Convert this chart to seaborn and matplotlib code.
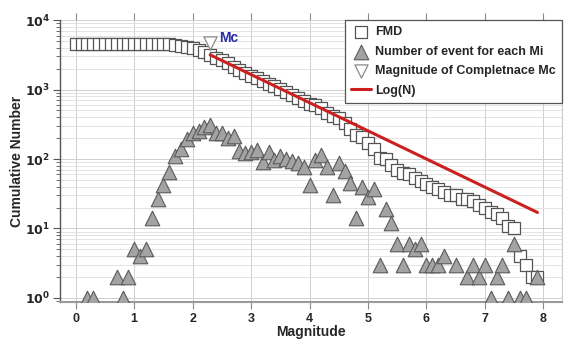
import numpy as np
import pandas as pd
import seaborn as sns
import matplotlib.pyplot as plt
from matplotlib.ticker import LogLocator, FuncFormatter, NullFormatter

# cumulative number (FMD), one value per 0.1 magnitude bin from 0.0 to 7.9
fmd_mag = [round(0.1 * i, 1) for i in range(80)]
fmd_n = [4500] * 16 + [
    4470, 4370, 4270, 4170, 3980, 3720, 3470, 3160, 2880, 2630,
    2400, 2140, 1900, 1740, 1580, 1450, 1320, 1200, 1120, 1020,
    910, 830, 760, 690, 630, 600, 540, 460, 410, 390,
    330, 270, 225, 210, 170, 140, 103, 100, 81, 69,
    63, 60, 54, 49, 43, 40, 37, 34, 30, 30,
    27, 27, 25, 22, 20, 17, 16, 14, 11, 10,
    4, 3, 2, 2,
]

# number of events in each magnitude bin
tri_mag = [0.2, 0.3, 0.7, 0.8, 0.9, 1.0, 1.1, 1.2, 1.3, 1.4, 1.5, 1.6, 1.7, 1.8, 1.9,
           2.0, 2.1, 2.2, 2.3, 2.4, 2.5, 2.6, 2.7, 2.8, 2.9, 3.0, 3.1, 3.2, 3.3, 3.4,
           3.5, 3.6, 3.7, 3.8, 3.9, 4.0, 4.1, 4.2, 4.3, 4.4, 4.5, 4.6, 4.7, 4.8, 4.9,
           5.0, 5.1, 5.2, 5.3, 5.4, 5.5, 5.6, 5.7, 5.8, 5.9, 6.0, 6.1, 6.2, 6.3, 6.5,
           6.7, 6.8, 6.9, 7.0, 7.1, 7.2, 7.3, 7.4, 7.5, 7.6, 7.7, 7.9]
tri_n = [1, 1, 2, 1, 2, 5, 4, 5, 14, 27, 42, 65, 110, 140, 195,
         235, 250, 290, 310, 235, 240, 200, 215, 130, 122, 125, 135, 91, 126, 97,
         110, 100, 95, 88, 76, 42, 97, 115, 77, 30, 87, 68, 45, 14, 40,
         28, 37, 3, 19, 12, 6, 3, 6, 5, 6, 3, 3, 3, 4, 3,
         2, 3, 2, 3, 1, 2, 3, 1, 6, 1, 1, 2]

# magnitude of completeness
mc_mag = [2.3]
mc_n = [4700]

# Gutenberg-Richter fit, log(N)
fit_mag = [2.3, 7.9]
fit_n = [3160, 17]

sns.set_style("whitegrid")
plt.rcParams['font.family'] = ['Liberation Sans', 'DejaVu Sans']
plt.rcParams['font.weight'] = 'bold'

fig = plt.figure(figsize=(5.66, 3.41), dpi=100)
ax = fig.add_axes([0.106, 0.114, 0.887, 0.827])

sns.scatterplot(x=fmd_mag, y=fmd_n, marker='s', s=66, facecolor='white',
                edgecolor='#555555', linewidth=0.9, label='FMD', ax=ax, zorder=3)
sns.scatterplot(x=tri_mag, y=tri_n, marker='^', s=110, color='#a3a3a3',
                edgecolor='#5a5a5a', linewidth=0.8,
                label='Number of event for each Mi', ax=ax, zorder=4)
sns.scatterplot(x=mc_mag, y=mc_n, marker='v', s=90, facecolor='white',
                edgecolor='#8a8a8a', linewidth=0.9,
                label='Magnitude of Completnace Mc', ax=ax, zorder=5)
sns.lineplot(x=fit_mag, y=fit_n, color='#cc1f1f', linewidth=2.2,
             label='Log(N)', ax=ax, zorder=6)

ax.text(2.45, 5600, 'Mc', color='#2a2aa8', fontsize=10, fontweight='bold',
        va='center', ha='left')

ax.set_yscale('log')
ax.set_xlim(-0.27, 8.32)
ax.set_ylim(0.87, 10000)
ax.set_xticks(range(9))
ax.yaxis.set_major_locator(LogLocator(base=10, numticks=10))
ax.yaxis.set_minor_locator(LogLocator(base=10, subs=np.arange(2, 10), numticks=20))
ax.yaxis.set_major_formatter(FuncFormatter(lambda v, p: r'$\mathbf{10^{%d}}$' % round(np.log10(v))))
ax.yaxis.set_minor_formatter(NullFormatter())

ax.grid(which='major', color='#cfcfcf', linewidth=0.7)
ax.grid(which='minor', axis='y', color='#dedede', linewidth=0.6)

ax.tick_params(axis='x', which='major', direction='out', length=5, width=0.8,
               color='#888888', labelsize=9, bottom=True, top=True, pad=3)
ax.tick_params(axis='y', which='major', direction='out', length=5, width=0.8,
               color='#555555', labelsize=9, left=True, pad=2)
ax.tick_params(axis='y', which='minor', direction='out', length=3, width=0.6,
               color='#555555', left=True)
for lbl in ax.get_xticklabels():
    lbl.set_fontweight('bold')

ax.spines['top'].set_visible(False)
ax.spines['left'].set_color('#555555')
ax.spines['left'].set_linewidth(1.0)
ax.spines['bottom'].set_color('#999999')
ax.spines['bottom'].set_linewidth(1.5)
ax.spines['right'].set_color('#cccccc')

ax.set_xlabel('Magnitude', fontsize=10, fontweight='bold')
ax.xaxis.set_label_coords(0.5, -0.082)
ax.set_ylabel('Cumulative Number', fontsize=10, fontweight='bold')
ax.yaxis.set_label_coords(-0.072, 0.5)

leg = ax.legend(loc='upper right', borderaxespad=0.0, fontsize=9, frameon=True,
                fancybox=False, handlelength=1.6, handletextpad=0.3,
                labelspacing=0.6, borderpad=0.5)
leg.get_frame().set_edgecolor('#555555')
leg.get_frame().set_linewidth(0.9)
leg.get_frame().set_alpha(1)
for t in leg.get_texts():
    t.set_fontweight('bold')

fig.savefig('out.png', dpi=100)
